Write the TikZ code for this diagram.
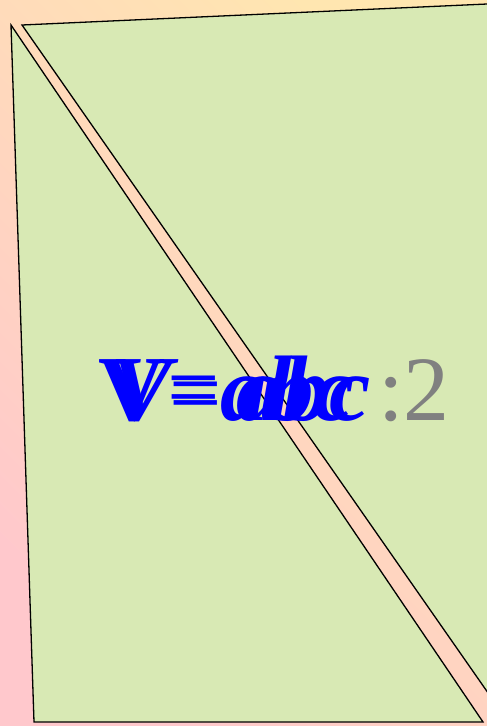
\documentclass[tikz,border=0pt]{standalone}
\usepackage{fontspec}
\setmainfont{Liberation Serif}
\definecolor{bgpink}{RGB}{255,200,204}
\definecolor{bgyel}{RGB}{255,230,176}
\definecolor{leaf}{RGB}{216,233,180}
\definecolor{txtblue}{RGB}{0,0,255}
\definecolor{txtgray}{RGB}{128,128,128}
\tikzset{
  facet/.style={fill=leaf,draw=black,line width=1.3pt,line join=miter},
  eq/.style={inner sep=0pt,anchor=base west,text=txtblue,font=\fontsize{93}{100}\selectfont},
  frac/.style={inner sep=0pt,anchor=base west,text=txtgray,font=\fontsize{92}{100}\selectfont}
}
\begin{document}
\begin{tikzpicture}[x=1pt,y=-1pt]
\useasboundingbox (0,0) rectangle (487,726);
\fill[bottom color=bgpink,top color=bgyel,shading angle=-45] (0,0) rectangle (487,726);
\begin{scope}
\clip (0,0) rectangle (487,726);
\draw[facet] (11,25) -- (34,722) -- (483,722) -- cycle;
\draw[facet] (22,25) -- (620,-2) -- (620,882) -- cycle;
\end{scope}
\node[eq] (va) at (98,420) {\bfseries V\kern2pt\raisebox{2pt}{\mdseries=}\kern1pt\bfseries\itshape abc};
\node[eq] (vb) at (110,420) {\bfseries\itshape V\kern-3pt\raisebox{-4pt}{\mdseries\upshape=}\kern15pt abc};
\node[frac] (two) at (378,420) {:2};
\end{tikzpicture}
\end{document}
